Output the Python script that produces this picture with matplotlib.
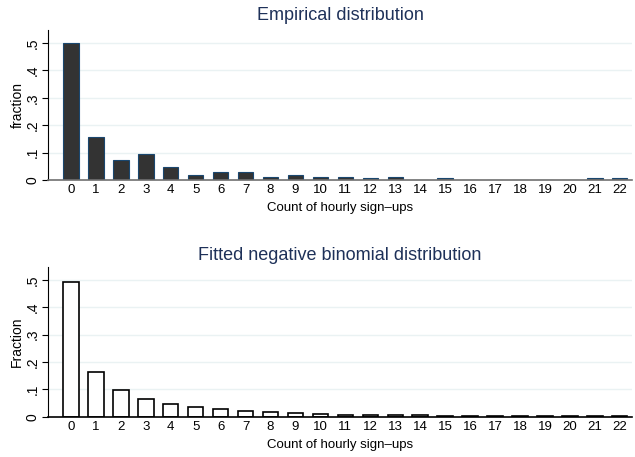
import matplotlib
matplotlib.use('Agg')
import matplotlib.pyplot as plt
import numpy as np

matplotlib.rcParams['font.family'] = ['Liberation Sans', 'DejaVu Sans']
matplotlib.rcParams['figure.facecolor'] = 'white'

# Hourly sign-up counts and their fractions
counts = list(range(23))
empirical = [0.500, 0.157, 0.075, 0.095, 0.049, 0.018, 0.028, 0.028, 0.010, 0.018,
             0.010, 0.010, 0.006, 0.010, 0.000, 0.006, 0.000, 0.000, 0.000, 0.000,
             0.000, 0.006, 0.006]
fitted = [0.493, 0.163, 0.096, 0.064, 0.046, 0.035, 0.028, 0.022, 0.016, 0.012,
          0.010, 0.008, 0.007, 0.006, 0.005, 0.004, 0.004, 0.003, 0.003, 0.002,
          0.002, 0.002, 0.002]
yticks = [0, 0.1, 0.2, 0.3, 0.4, 0.5]
ytick_labels = ['0', '.1', '.2', '.3', '.4', '.5']

TITLE_COLOR = '#1e3159'
GRID_COLOR = '#eaf2f3'

fig = plt.figure(figsize=(6.35, 4.57), dpi=100)
ax1 = fig.add_axes([0.0756, 0.606, 0.92, 0.328])
ax2 = fig.add_axes([0.0756, 0.088, 0.92, 0.328])


def style_axis(ax, title, ylabel, baseline_color, title_pad):
    ax.set_xlim(-0.92, 22.5)
    ax.set_ylim(0, 0.547)
    ax.set_yticks(yticks)
    ax.set_yticklabels(ytick_labels, rotation=90, va='center', fontsize=10)
    ax.set_xticks(counts)
    ax.set_xticklabels([str(c) for c in counts], fontsize=9.5)
    ax.tick_params(axis='x', length=0, pad=3)
    ax.tick_params(axis='y', length=4, width=0.8, pad=2)
    for v in yticks[1:]:
        ax.axhline(v, color=GRID_COLOR, linewidth=1, zorder=0)
    ax.spines['top'].set_visible(False)
    ax.spines['right'].set_visible(False)
    ax.spines['left'].set_linewidth(0.8)
    ax.spines['bottom'].set_color(baseline_color)
    ax.spines['bottom'].set_linewidth(1.2)
    ax.set_xlabel('Count of hourly sign\u2013ups', fontsize=9.5, labelpad=4)
    ax.set_ylabel(ylabel, fontsize=10, labelpad=1)
    ax.set_title(title, fontsize=13, color=TITLE_COLOR, pad=title_pad)


# Empirical distribution: dark filled bars
ax1.bar(counts, empirical, width=0.62, color='#333333', edgecolor='#1a476f',
        linewidth=0.8, zorder=2)
style_axis(ax1, 'Empirical distribution', 'fraction', '#707070', 7)

# Fitted negative binomial: hollow bars
ax2.bar(counts, fitted, width=0.62, color='white', edgecolor='black',
        linewidth=1.2, zorder=2)
style_axis(ax2, 'Fitted negative binomial distribution', 'Fraction', 'black', 5)

plt.savefig('out.png', dpi=100)
plt.close()
